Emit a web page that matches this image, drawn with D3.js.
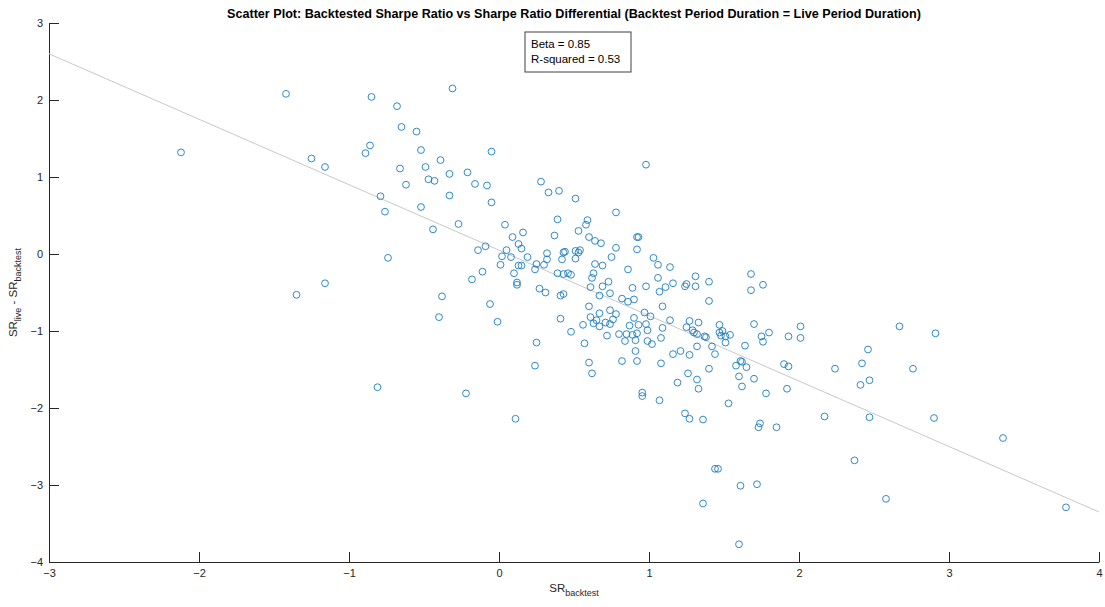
<!DOCTYPE html>
<html>
<head>
<meta charset="utf-8">
<script src="https://cdn.jsdelivr.net/npm/d3@7"></script>
<style>
    body { margin: 0; background: #fff; }
    #chart-area { width: 1105px; height: 607px; }
    text { font-family: "Liberation Sans", Arial, Helvetica, sans-serif; }
</style>
</head>
<body>
<div id="chart-area"></div>
<script>

// backtested sharpe ratio (x) of each strategy
let srBacktest = [
    -1.42, -0.85, -0.68, -0.65, -2.12, -1.25, -0.86, -0.89, -1.16, -0.66,
    -0.79, -0.31, -0.55, -0.52, -0.39, -0.05, -0.49, -0.33, -0.21, -0.62,
    -0.47, -0.43, -0.16, -0.08, -0.33, 0.28, 0.33, 0.40, 0.98, 0.51,
    -0.05, -0.76, -0.52, -0.27, -0.44, 0.04, 0.16, 0.09, 0.13, 0.15,
    0.19, 0.05, 0.02, 0.08, -0.09, -0.14, 0.01, 0.13, 0.15, 0.10,
    -0.11, -0.18, -0.74, -1.16, 0.78, 0.39, 0.59, 0.58, 0.53, 0.37,
    0.12, 0.12, 0.60, 0.64, 0.68, 0.78, 0.92, 0.93, 0.92, 0.32,
    0.32, 0.30, 0.25, 0.24, 0.27, 0.43, 0.44, 0.42, 0.51, 0.54,
    0.53, 0.51, 0.39, 0.43, 0.46, 0.48, 0.64, 0.69, 0.75, 0.63,
    0.62, 0.73, 0.69, 0.61, 0.86, 0.89, 1.03, 1.06, 1.14, 1.06,
    1.16, 1.11, 1.07, 1.31, 1.40, 1.24, 1.25, 1.31, 1.68, 1.76,
    1.68, 1.40, 1.09, 0.98, -0.38, -0.40, -0.06, -0.01, 0.25, 0.24,
    -0.22, 0.11, 0.31, 0.41, 0.43, 0.41, 0.48, 0.56, 0.57, 0.60,
    0.62, 0.60, 0.67, 0.74, 0.61, 0.67, 0.65, 0.63, 0.67, 0.71,
    0.74, 0.78, 0.76, 0.74, 0.72, 0.82, 0.86, 0.90, 0.90, 0.87,
    0.80, 0.84, 0.85, 0.89, 0.92, 0.91, 0.91, 0.82, 0.92, 0.93,
    0.97, 1.01, 0.98, 0.99, 1.09, 1.14, 1.08, 0.99, 1.02, 1.08,
    0.955, 0.955, 1.07, 1.27, 1.33, 1.25, 1.29, 1.30, 1.32, 1.37,
    1.38, 1.21, 1.16, 1.27, 1.32, 1.42, 1.44, 1.40, 1.26, 1.19,
    1.32, 1.33, 1.47, 1.49, 1.47, 1.48, 1.51, 1.54, 1.51, 1.64,
    1.70, 1.75, 1.76, 1.80, 1.61, 1.62, 1.58, 1.65, 1.60, 1.62,
    1.70, 1.78, 1.53, 1.93, 2.01, 2.01, 1.90, 1.93, 1.92, 2.24,
    2.17, 1.24, 1.27, 1.36, 1.74, 1.73, 1.85, 2.67, 2.91, 2.46,
    2.42, 2.76, 2.47, 2.41, 2.47, 2.90, 3.36, 2.37, 1.44, 1.46,
    1.61, 1.72, 1.36, 2.58, 3.78, 1.60, -1.35, -0.81
];

// live minus backtested sharpe ratio (y), same order
let srDiff = [
    2.08, 2.04, 1.92, 1.65, 1.32, 1.24, 1.41, 1.31, 1.13, 1.11,
    0.75, 2.15, 1.59, 1.35, 1.22, 1.33, 1.13, 1.04, 1.06, 0.90,
    0.97, 0.95, 0.91, 0.89, 0.76, 0.94, 0.80, 0.82, 1.16, 0.72,
    0.67, 0.55, 0.61, 0.39, 0.32, 0.38, 0.28, 0.22, 0.13, 0.07,
    -0.04, 0.05, -0.03, -0.04, 0.10, 0.05, -0.14, -0.15, -0.15, -0.25,
    -0.23, -0.33, -0.05, -0.38, 0.54, 0.45, 0.44, 0.38, 0.30, 0.24,
    -0.37, -0.40, 0.22, 0.17, 0.14, 0.08, 0.22, 0.22, 0.06, 0.01,
    -0.07, -0.14, -0.13, -0.20, -0.45, 0.02, 0.03, -0.07, 0.04, 0.05,
    0.02, -0.06, -0.25, -0.26, -0.25, -0.27, -0.13, -0.15, -0.04, -0.25,
    -0.31, -0.36, -0.42, -0.43, -0.20, -0.44, -0.05, -0.14, -0.17, -0.31,
    -0.38, -0.43, -0.49, -0.29, -0.36, -0.42, -0.39, -0.42, -0.26, -0.40,
    -0.47, -0.61, -0.68, -0.42, -0.55, -0.82, -0.65, -0.88, -1.15, -1.45,
    -1.81, -2.14, -0.50, -0.54, -0.52, -0.84, -1.01, -0.92, -1.16, -1.41,
    -1.55, -0.68, -0.54, -0.51, -0.82, -0.77, -0.86, -0.90, -0.94, -0.89,
    -0.73, -0.78, -0.85, -0.91, -1.06, -0.58, -0.62, -0.59, -0.83, -0.93,
    -1.04, -1.13, -1.04, -1.05, -1.03, -1.12, -1.26, -1.39, -1.39, -0.92,
    -0.76, -0.81, -0.91, -0.99, -0.96, -0.86, -1.09, -1.13, -1.17, -1.42,
    -1.80, -1.845, -1.90, -0.87, -0.89, -0.95, -0.99, -1.02, -1.04, -1.07,
    -1.08, -1.26, -1.30, -1.31, -1.20, -1.20, -1.30, -1.49, -1.55, -1.67,
    -1.63, -1.75, -0.92, -1.00, -1.02, -1.06, -1.07, -1.05, -1.15, -1.19,
    -0.91, -1.07, -1.14, -1.02, -1.39, -1.40, -1.45, -1.47, -1.59, -1.72,
    -1.62, -1.81, -1.94, -1.07, -1.09, -0.94, -1.43, -1.46, -1.75, -1.49,
    -2.11, -2.07, -2.14, -2.15, -2.20, -2.25, -2.25, -0.94, -1.03, -1.24,
    -1.42, -1.49, -1.64, -1.70, -2.12, -2.13, -2.39, -2.68, -2.79, -2.79,
    -3.01, -2.99, -3.24, -3.18, -3.29, -3.77, -0.53, -1.73
];

// fitted line: intercept and slope
let fitCoef = [0.05, -0.85];

let xTicks = [-3, -2, -1, 0, 1, 2, 3, 4];
let yTicks = [-4, -3, -2, -1, 0, 1, 2, 3];

let statLines = ["Beta = 0.85", "R-squared = 0.53"];

let chartTitle = "Scatter Plot: Backtested Sharpe Ratio vs Sharpe Ratio Differential (Backtest Period Duration = Live Period Duration)";


class ScatterVis {

    constructor(parentElement) {
        this.parentElement = parentElement;
        this.displayData = srBacktest.map((d, i) => ({x: d, y: srDiff[i]}));
        this.initVis();
    }

    initVis() {
        let vis = this;

        vis.margin = {top: 23, right: 6, bottom: 45, left: 49};
        vis.width = 1105 - vis.margin.left - vis.margin.right;
        vis.height = 607 - vis.margin.top - vis.margin.bottom;

        vis.svg = d3.select("#" + vis.parentElement).append("svg")
            .attr("width", 1105)
            .attr("height", 607);

        vis.g = vis.svg.append("g")
            .attr("transform", `translate(${vis.margin.left}, ${vis.margin.top})`);

        vis.x = d3.scaleLinear().domain([-3, 4]).range([0, vis.width]);
        vis.y = d3.scaleLinear().domain([-4, 3]).range([vis.height, 0]);

        // axes, ticks pointing inward like matlab
        let xAxis = d3.axisBottom(vis.x).tickValues(xTicks).tickFormat(d3.format("d"))
            .tickSize(-10).tickSizeOuter(0).tickPadding(7);
        let yAxis = d3.axisLeft(vis.y).tickValues(yTicks).tickFormat(d3.format("d"))
            .tickSize(-10).tickSizeOuter(0).tickPadding(6);

        vis.g.append("g")
            .attr("class", "x-axis")
            .attr("transform", `translate(0, ${vis.height})`)
            .call(xAxis);
        vis.g.append("g")
            .attr("class", "y-axis")
            .call(yAxis);

        vis.g.selectAll(".x-axis, .y-axis").selectAll("path, line")
            .attr("stroke", "#262626");
        vis.g.selectAll(".x-axis, .y-axis").selectAll("text")
            .attr("fill", "#262626")
            .style("font-size", "11px");

        // regression line
        vis.g.append("line")
            .attr("x1", vis.x(-3))
            .attr("y1", vis.y(fitCoef[0] + fitCoef[1] * -3))
            .attr("x2", vis.x(4))
            .attr("y2", vis.y(fitCoef[0] + fitCoef[1] * 4))
            .attr("stroke", "#c8c8c8")
            .attr("stroke-width", 1);

        vis.g.selectAll(".dot")
            .data(vis.displayData)
            .enter().append("circle")
            .attr("class", "dot")
            .attr("cx", d => vis.x(d.x))
            .attr("cy", d => vis.y(d.y))
            .attr("r", 3.4)
            .attr("fill", "none")
            .attr("stroke", "#1a7cbd")
            .attr("stroke-width", 0.9);

        // title
        vis.svg.append("text")
            .attr("x", vis.margin.left + vis.width / 2)
            .attr("y", 18)
            .attr("text-anchor", "middle")
            .attr("fill", "#000")
            .style("font-size", "12.6px")
            .style("font-weight", "bold")
            .text(chartTitle);

        // stats box
        let box = vis.svg.append("g").attr("transform", "translate(525, 32)");
        box.append("rect")
            .attr("width", 106)
            .attr("height", 40)
            .attr("fill", "#fff")
            .attr("stroke", "#404040")
            .attr("stroke-width", 1);
        box.selectAll(".stat")
            .data(statLines)
            .enter().append("text")
            .attr("class", "stat")
            .attr("x", 6)
            .attr("y", (d, i) => 16 + i * 15)
            .attr("fill", "#000")
            .style("font-size", "11.5px")
            .text(d => d);

        // axis labels with subscripts
        let xLab = vis.svg.append("text")
            .attr("x", vis.margin.left + vis.width / 2)
            .attr("y", 592)
            .attr("text-anchor", "middle")
            .attr("fill", "#262626")
            .style("font-size", "11.5px");
        xLab.append("tspan").text("SR");
        xLab.append("tspan").attr("dy", 4).style("font-size", "9px").text("backtest");

        let yLab = vis.svg.append("text")
            .attr("transform", `translate(17, ${vis.margin.top + vis.height / 2}) rotate(-90)`)
            .attr("text-anchor", "middle")
            .attr("fill", "#262626")
            .style("font-size", "11.5px");
        yLab.append("tspan").text("SR");
        yLab.append("tspan").attr("dy", 4).style("font-size", "9px").text("live");
        yLab.append("tspan").attr("dy", -4).text(" - SR");
        yLab.append("tspan").attr("dy", 4).style("font-size", "9px").text("backtest");
    }
}

new ScatterVis("chart-area");

</script>
</body>
</html>
